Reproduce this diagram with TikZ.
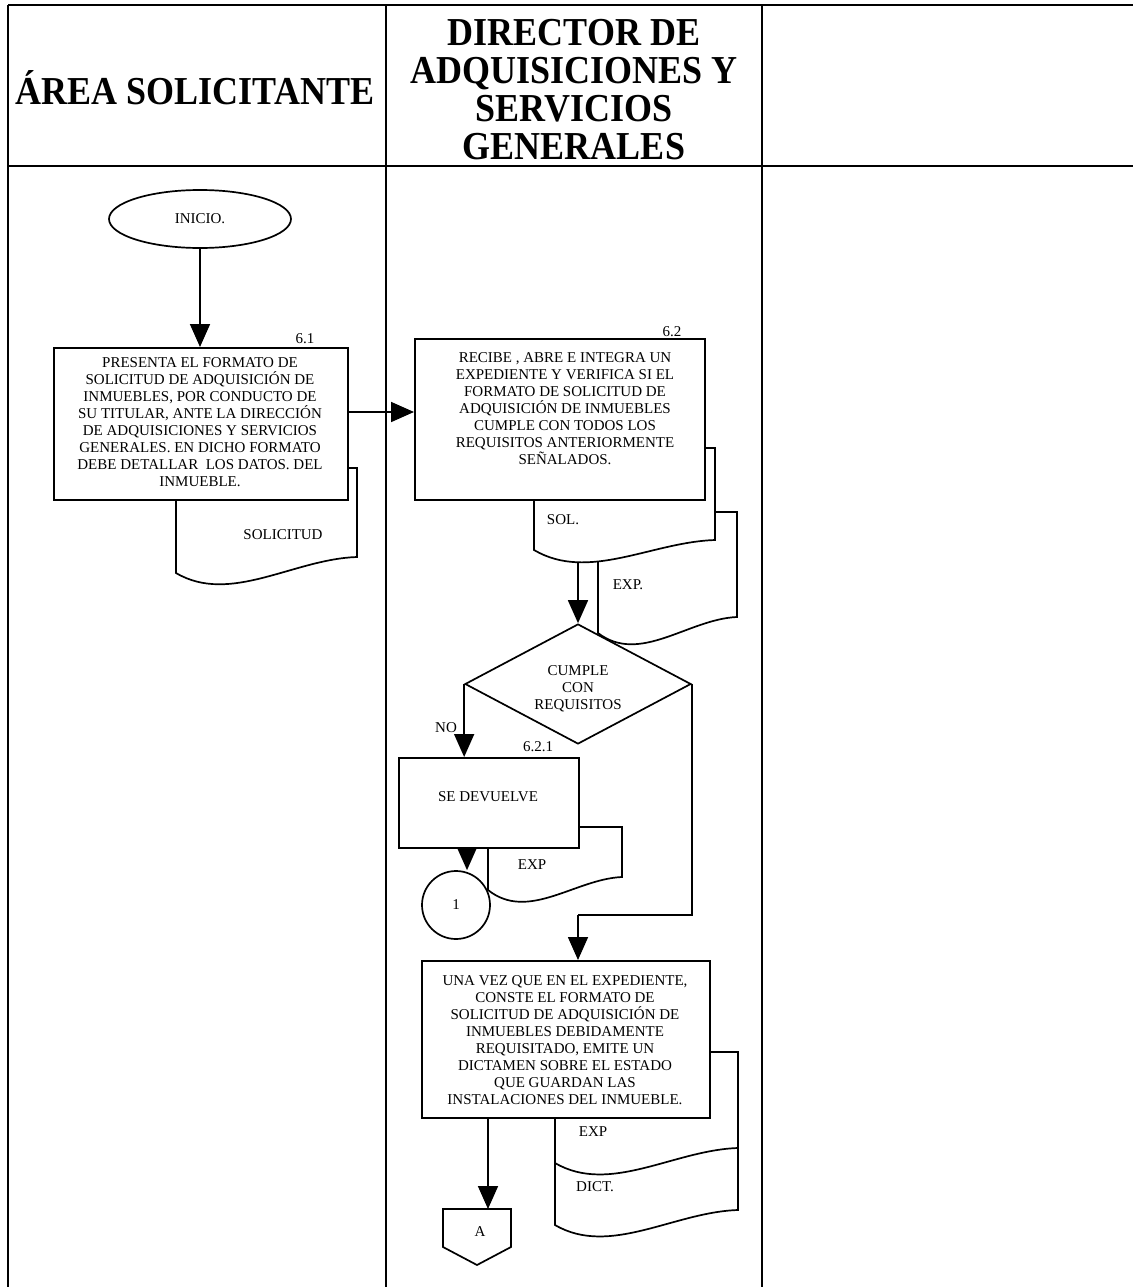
\documentclass[tikz,border=0pt]{standalone}
\usepackage{fontspec}
\setmainfont{Liberation Serif}
\usetikzlibrary{arrows.meta,shapes.geometric}

% document symbol: #1,#2 left/right x, #3 top y, #4 bottom-left y, #5 bottom-right y
\newcommand\flowdoc[5]{%
  \filldraw[docline] (#1,#3) -- (#2,#3) -- (#2,#5)
    .. controls ({#1+0.65*(#2-#1)},{#5+2}) and ({#1+0.3*(#2-#1)},{#4+32}) .. (#1,#4) -- cycle;}

\begin{document}
\begin{tikzpicture}[x=1pt,y=-1pt,
  lane/.style={line width=1.3pt},
  procbox/.style={draw, rectangle, line width=2pt, fill=white, inner sep=0pt},
  docline/.style={line width=1.7pt, fill=white},
  flow/.style={line width=1.7pt, -{Triangle[width=20pt,length=23pt]}},
  link/.style={line width=1.7pt},
  txt/.style={font=\fontsize{15}{17}\selectfont, align=center, inner sep=0pt},
  hdr/.style={font=\fontsize{36}{34.5}\selectfont\bfseries, align=center, inner sep=0pt,
              yscale=1.1, transform shape}]

\fill[white] (0,0) rectangle (1133,1287);
\useasboundingbox (0,0) rectangle (1133,1287);

% swimlane grid
\draw[lane] (8,5) -- (1133,5);
\draw[lane] (8,166) -- (1133,166);
\draw[lane] (8,5) -- (8,1287);
\draw[lane] (386,5) -- (386,1287);
\draw[lane] (762,5) -- (762,1287);

\node[hdr] (h1) at (195,88) {ÁREA SOLICITANTE};
\node[hdr] (h2) at (574,90) {DIRECTOR DE\\ADQUISICIONES Y\\SERVICIOS\\GENERALES};

% start
\node[draw, ellipse, line width=1.7pt, minimum width=182pt, minimum height=58pt, txt] (ini) at (200,219) {INICIO.};

% documents (drawn before the boxes that cover their tops)
\flowdoc{176}{357}{468}{573}{557}
\node[txt] (dsol) at (283,535) {SOLICITUD};

\flowdoc{598}{737}{512}{633}{617}
\flowdoc{534}{715}{448}{550}{540}
\node[txt] (dsol2) at (563,520) {SOL.};
\node[txt] (dexp1) at (628,585) {EXP.};

\flowdoc{488}{622}{827}{890}{877}
\node[txt] (dexp2) at (532,865) {EXP};

\flowdoc{555}{738}{1140}{1225}{1210}
\flowdoc{555}{738}{1052}{1163}{1148}
\node[txt] (dexp3) at (593,1132) {EXP};
\node[txt] (ddict) at (595,1187) {DICT.};

% process boxes
\node[procbox, minimum width=294pt, minimum height=152pt] (p61) at (201,424) {};
\node[txt] (p61t) at (200,422) {PRESENTA EL FORMATO DE\\SOLICITUD DE ADQUISICIÓN DE\\INMUEBLES, POR CONDUCTO DE\\SU TITULAR, ANTE LA DIRECCIÓN\\DE ADQUISICIONES Y SERVICIOS\\GENERALES. EN DICHO FORMATO\\DEBE DETALLAR\ \ LOS DATOS. DEL\\INMUEBLE.};
\node[txt] (n61) at (305,339) {6.1};

\node[procbox, minimum width=290pt, minimum height=161pt] (p62) at (560,419.5) {};
\node[txt] (p62t) at (565,409) {RECIBE , ABRE E INTEGRA UN\\EXPEDIENTE Y VERIFICA SI EL\\FORMATO DE SOLICITUD DE\\ADQUISICIÓN DE INMUEBLES\\CUMPLE CON TODOS LOS\\REQUISITOS ANTERIORMENTE\\SEÑALADOS.};
\node[txt] (n62) at (672,332) {6.2};

\node[draw, diamond, line width=1.7pt, fill=white, minimum width=226pt, minimum height=120pt, inner sep=0pt] (dec) at (578,684) {};
\node[txt] (dect) at (578,689) {CUMPLE\\CON\\REQUISITOS};
\node[txt] (no) at (446,728) {NO};

\node[procbox, minimum width=180pt, minimum height=90pt] (p621) at (489,803) {};
\node[txt] (p621t) at (488,797) {SE DEVUELVE};
\node[txt] (n621) at (538,747) {6.2.1};

\node[draw, circle, line width=1.7pt, fill=white, minimum size=68pt, txt] (c1) at (456,905) {1};

\node[procbox, minimum width=288pt, minimum height=157pt] (p3) at (566,1039.5) {};
\node[txt] (p3t) at (565,1040) {UNA VEZ QUE EN EL EXPEDIENTE,\\CONSTE EL FORMATO DE\\SOLICITUD DE ADQUISICIÓN DE\\INMUEBLES DEBIDAMENTE\\REQUISITADO, EMITE UN\\DICTAMEN SOBRE EL ESTADO\\QUE GUARDAN LAS\\INSTALACIONES DEL INMUEBLE.};

% off-page connector
\filldraw[line width=1.7pt, fill=white] (443,1209) -- (511,1209) -- (511,1247) -- (477,1265) -- (443,1247) -- cycle;
\node[txt] (offA) at (480,1232) {A};

% connectors
\draw[flow] (ini.south) -- (ini.south |- p61.north);
\draw[flow] ([yshift=12pt]p61.east) -- ([yshift=12pt]p61.east -| p62.west);
\coordinate (solb) at (578,562);
\draw[flow] (solb) -- (dec.north);
\draw[flow] (dec.west) -- (dec.west |- p621.north);
\coordinate (k1) at (467,848);
\draw[flow] (k1) -- (k1 |- c1.north);
\coordinate (ybend) at (578,915);
\draw[link] (dec.east) |- (ybend);
\draw[flow] (ybend) -- (ybend |- p3.north);
\coordinate (ka) at (488,1118);
\coordinate (kat) at (488,1209);
\draw[flow] (ka) -- (kat);
\end{tikzpicture}
\end{document}
